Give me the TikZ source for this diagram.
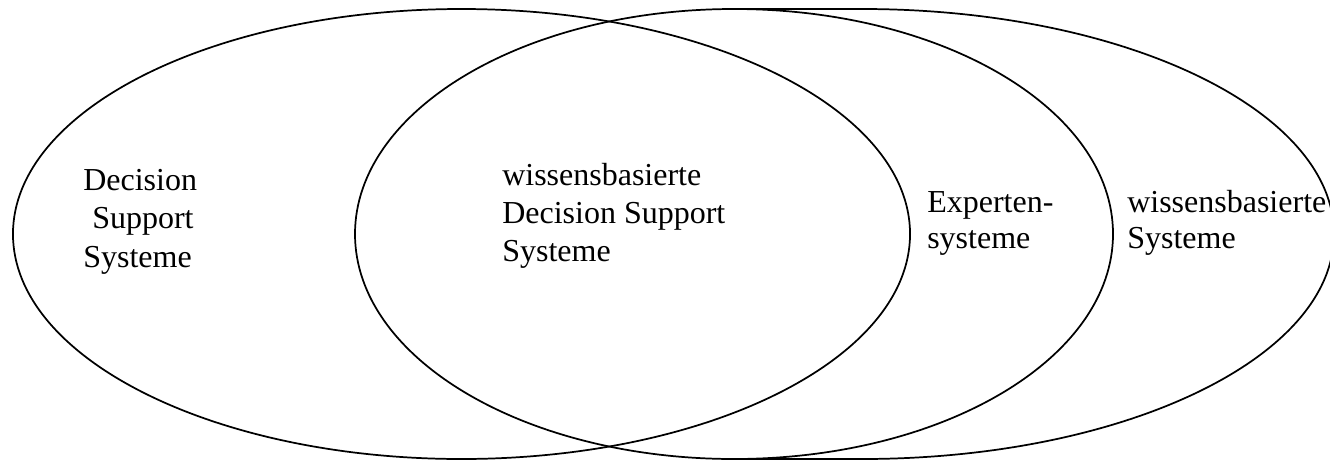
\documentclass[tikz,border=0pt]{standalone}
\usepackage{fontspec}
\setmainfont{Liberation Serif}
\begin{document}
\begin{tikzpicture}[x=0.75pt,y=-0.75pt,
  outline/.style={draw=black,line width=1.3pt},
  lbl/.style={anchor=base west,inner sep=0pt,font=\fontsize{24pt}{28pt}\selectfont}]
\useasboundingbox (0,0) rectangle (1330,461);

% Decision Support Systeme
\draw[outline] (461.5,234) ellipse [x radius=336.4pt, y radius=168.75pt];
% Expertensysteme
\draw[outline] (734,234) ellipse [x radius=284.25pt, y radius=168.75pt];
% wissensbasierte Systeme (left part shared with the Expertensysteme outline)
\draw[outline] (734,9) -- (862,9)
  arc[start angle=90, end angle=-90, x radius=354pt, y radius=168.75pt]
  -- (734,459);

% labels
\node[lbl] (dss1) at (83,190) {Decision};
\node[lbl] (dss2) at (92,228) {Support};
\node[lbl] (dss3) at (83,267) {Systeme};

\node[lbl] (wdss1) at (502,185) {wissensbasierte};
\node[lbl] (wdss2) at (502,223) {Decision Support};
\node[lbl] (wdss3) at (502,261) {Systeme};

\node[lbl] (xps1) at (927,212) {Experten-};
\node[lbl] (xps2) at (927,248) {systeme};

\node[lbl] (wbs1) at (1127,212) {wissensbasierte};
\node[lbl] (wbs2) at (1127,248) {Systeme};
\end{tikzpicture}
\end{document}
